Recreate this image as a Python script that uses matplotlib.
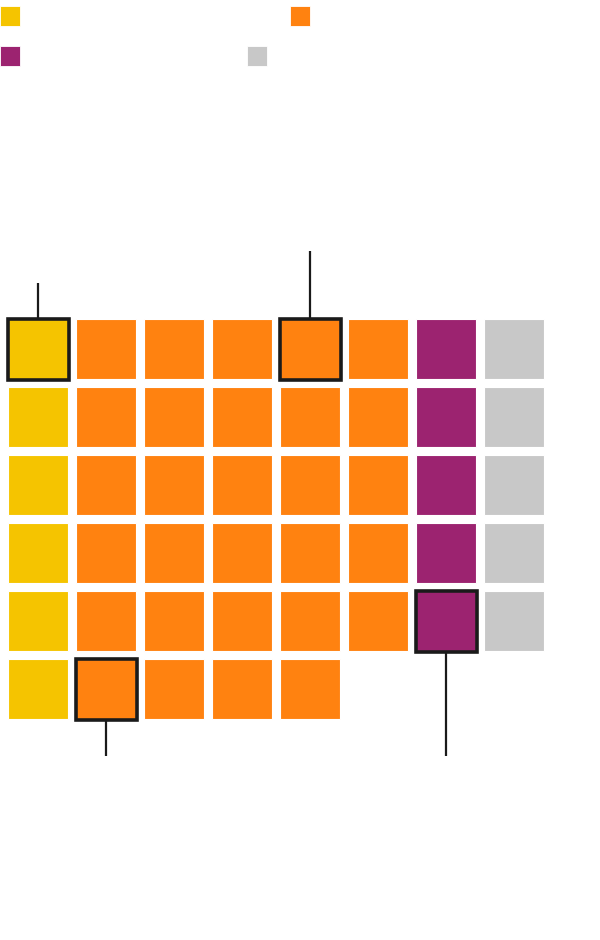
import matplotlib
matplotlib.use("Agg")
import matplotlib.pyplot as plt
from matplotlib.patches import Rectangle

# ---- data ----
categories = ["A", "B", "C", "D"]
counts = [6, 29, 5, 5]
colors = ["#F5C400", "#FF8210", "#9C2370", "#C8C8C8"]
n_rows = 6
# highlighted cells: (column, row, direction, line length in px)
highlights = [(0, 0, "up", 35), (4, 0, "up", 67), (1, 5, "down", 35), (6, 4, "down", 103)]
# legend positions (px)
legend_pos = [(0, 6), (290, 6), (0, 46), (247, 46)]

W, H = 600, 940
fig = plt.figure(figsize=(W / 100, H / 100), dpi=100)
ax = fig.add_axes([0, 0, 1, 1])
ax.set_xlim(0, W)
ax.set_ylim(H, 0)
ax.axis("off")

x0, y0, pitch, size = 8, 319, 68, 60

# build cells: each category starts in a new column, filling top to bottom
cells = {}
col = 0
for ci, n in enumerate(counts):
    remaining = n
    while remaining > 0:
        h = min(n_rows, remaining)
        # distribute evenly: columns of full height except possibly last
        for r in range(h):
            cells[(col, r)] = ci
        remaining -= h
        col += 1

# orange distribution: 6,6,6,6,5 rather than 6,6,6,6,5 (already)
for (c, r), ci in cells.items():
    ax.add_patch(Rectangle((x0 + c * pitch, y0 + r * pitch), size, size,
                           facecolor=colors[ci], edgecolor="white", lw=0.8, zorder=2))

for c, r, d, L in highlights:
    x = x0 + c * pitch
    y = y0 + r * pitch
    ax.add_patch(Rectangle((x - 0.5, y - 0.5), size + 1, size + 1, facecolor="none",
                           edgecolor="#1a1a1a", lw=2.6, zorder=4, joinstyle="miter"))
    cx = x + size / 2
    if d == "up":
        ax.plot([cx, cx], [y - 1.5 - L, y - 1.5], color="#1a1a1a", lw=1.6, zorder=3,
                solid_capstyle="butt")
    else:
        ax.plot([cx, cx], [y + size + 1.5, y + size + 1.5 + L], color="#1a1a1a", lw=1.6,
                zorder=3, solid_capstyle="butt")

for (lx, ly), colr in zip(legend_pos, colors):
    ax.add_patch(Rectangle((lx, ly), 20, 20, facecolor=colr, edgecolor="white", lw=0.6))

fig.savefig("out.png", dpi=100, facecolor="white")
